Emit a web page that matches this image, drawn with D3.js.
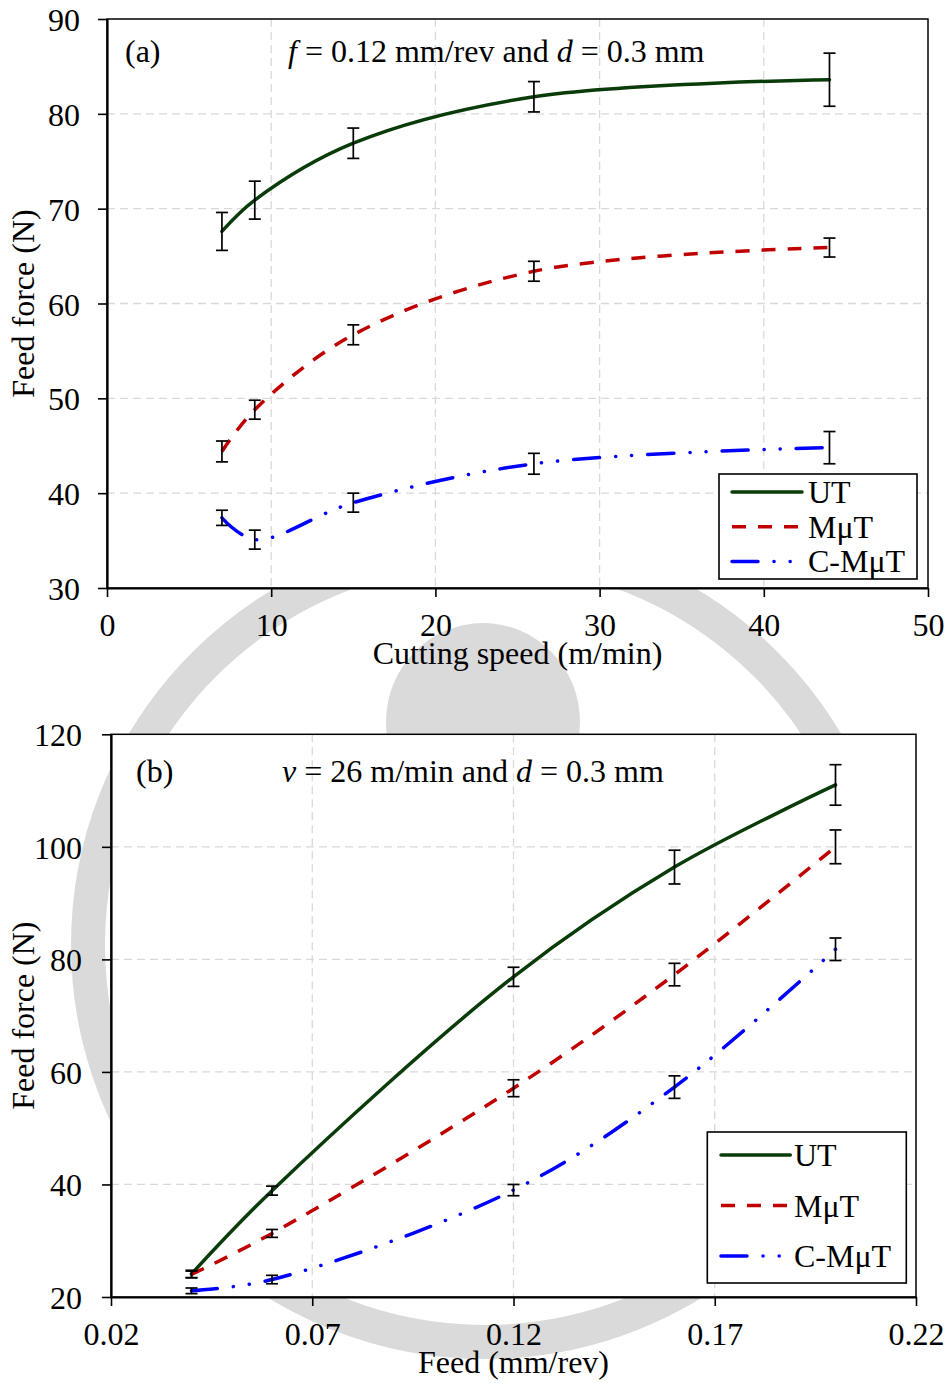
<!DOCTYPE html>
<html><head><meta charset="utf-8">
<script src="https://cdn.jsdelivr.net/npm/d3@7"></script>
<style>
html,body{margin:0;padding:0;background:#fff;}
svg{display:block;}
text{font-family:"Liberation Serif","Times New Roman",serif;}
</style></head><body>
<svg id="chart" width="947" height="1383"></svg>
<script>
// ---------- Panel (a): feed force vs cutting speed ----------
const speedA = [7, 9, 15, 26, 44];
const utA = [67.6, 70.9, 76.9, 81.8, 83.6];
const utErrA = [2.0, 2.0, 1.6, 1.6, 2.8];
const mutA = [44.4, 48.8, 56.7, 63.4, 65.9];
const mutErrA = [1.1, 1.0, 1.05, 1.05, 1.0];
const cmutA = [37.4, 35.1, 39.0, 43.1, 44.8];
const cmutErrA = [0.8, 1.0, 1.0, 1.1, 1.7];
const xTicksA = [0, 10, 20, 30, 40, 50];
const yTicksA = [30, 40, 50, 60, 70, 80, 90];

// ---------- Panel (b): feed force vs feed ----------
const feedB = [0.04, 0.06, 0.12, 0.16, 0.2];
const utB = [24.1, 38.9, 76.9, 96.4, 111.0];
const utErrB = [0.65, 0.8, 1.7, 3.0, 3.6];
const mutB = [24.0, 31.3, 57.1, 77.3, 100.0];
const mutErrB = [0.6, 0.7, 1.5, 2.0, 3.0];
const cmutB = [21.1, 23.1, 39.0, 57.3, 81.8];
const cmutErrB = [0.5, 0.75, 1.0, 2.0, 2.0];
const xTicksB = [0.02, 0.07, 0.12, 0.17, 0.22];
const yTicksB = [20, 40, 60, 80, 100, 120];

const seriesNames = ["UT", "M\u03bcT", "C-M\u03bcT"];
const seriesColors = ["#0a3c0a", "#c00000", "#0000ff"];
const seriesDash = [null, "14,12", "26,16,0.1,16,0.1,16"];
const seriesCap = ["round", "butt", "round"];

const FONT = '"Liberation Serif","Times New Roman",serif';
const svg = d3.select("#chart");

// faint background watermark
const wm = svg.append("g");
wm.append("circle").attr("cx", 485).attr("cy", 945).attr("r", 397)
  .attr("fill", "none").attr("stroke", "#dadada").attr("stroke-width", 34);
wm.append("ellipse").attr("cx", 483).attr("cy", 722).attr("rx", 97).attr("ry", 99)
  .attr("fill", "#dadada");

function drawPanel(o) {
  const w = o.width, h = o.height;
  const g = svg.append("g").attr("transform", `translate(${o.left},${o.top})`);
  const x = d3.scaleLinear().domain(o.xDomain).range([0, w]);
  const y = d3.scaleLinear().domain(o.yDomain).range([h, 0]);

  g.append("rect").attr("width", w).attr("height", h).attr("fill", "#fff");

  // grid
  g.append("g").selectAll("line").data(o.xTicks.slice(1, -1)).join("line")
    .attr("x1", d => x(d)).attr("x2", d => x(d)).attr("y1", 0).attr("y2", h)
    .attr("stroke", "#d9d9d9").attr("stroke-width", 1.3).attr("stroke-dasharray", "8,5");
  g.append("g").selectAll("line").data(o.yTicks.slice(1, -1)).join("line")
    .attr("y1", d => y(d)).attr("y2", d => y(d)).attr("x1", 0).attr("x2", w)
    .attr("stroke", "#d9d9d9").attr("stroke-width", 1.3).attr("stroke-dasharray", "8,5");

  // border
  g.append("rect").attr("width", w).attr("height", h).attr("fill", "none")
    .attr("stroke", "#000").attr("stroke-width", 1.5);

  // axes
  const xa = g.append("g").attr("transform", `translate(0,${h})`)
    .call(d3.axisBottom(x).tickValues(o.xTicks).tickFormat(o.xFormat).tickSize(9).tickSizeOuter(0));
  xa.attr("font-size", 32).attr("font-family", FONT);
  xa.select(".domain").attr("stroke-width", 2.2);
  xa.selectAll(".tick line").attr("stroke-width", 1.6);
  xa.selectAll(".tick text").attr("y", 48).attr("dy", 0).attr("fill", "#000");

  const ya = g.append("g")
    .call(d3.axisLeft(y).tickValues(o.yTicks).tickSize(9).tickSizeOuter(0));
  ya.attr("font-size", 32).attr("font-family", FONT);
  ya.select(".domain").attr("stroke-width", 2.2);
  ya.selectAll(".tick line").attr("stroke-width", 1.6);
  ya.selectAll(".tick text").attr("x", -o.yLabelGap).attr("dy", "0.36em").attr("fill", "#000");

  // series
  const line = d3.line().x(d => x(d[0])).y(d => y(d[1])).curve(d3.curveCatmullRom.alpha(0.5));
  o.series.forEach((s, i) => {
    const pts = o.xs.map((xv, k) => [xv, s[k]]);
    g.append("path").datum(pts).attr("d", line).attr("fill", "none")
      .attr("stroke", seriesColors[i]).attr("stroke-width", 3.5)
      .attr("stroke-dasharray", seriesDash[i]).attr("stroke-linecap", seriesCap[i]);
  });
  // error bars
  o.series.forEach((s, i) => {
    const eb = g.append("g").attr("stroke", "#000").attr("stroke-width", 1.7);
    o.xs.forEach((xv, k) => {
      const e = o.errors[i][k];
      const cx = x(xv), y1 = y(s[k] + e), y2 = y(s[k] - e);
      eb.append("line").attr("x1", cx).attr("x2", cx).attr("y1", y1).attr("y2", y2);
      eb.append("line").attr("x1", cx - 6).attr("x2", cx + 6).attr("y1", y1).attr("y2", y1);
      eb.append("line").attr("x1", cx - 6).attr("x2", cx + 6).attr("y1", y2).attr("y2", y2);
    });
  });

  // annotations
  g.append("text").attr("x", o.tagX).attr("y", o.annY).attr("font-size", 32).text(o.tag);
  const ann = g.append("text").attr("x", o.annX).attr("y", o.annY).attr("font-size", 32)
    .style("white-space", "pre");
  o.ann.forEach(p => ann.append("tspan").attr("font-style", p[1] ? "italic" : "normal").text(p[0]));

  // axis titles
  g.append("text").attr("x", w / 2).attr("y", h + 76).attr("text-anchor", "middle")
    .attr("font-size", 32).text(o.xTitle);
  g.append("text").attr("transform", `translate(${33.5 - o.left},${h / 2}) rotate(-90)`)
    .attr("text-anchor", "middle").attr("font-size", 32).text("Feed force (N)");

  // legend
  const L = o.legend;
  const lg = g.append("g").attr("transform", `translate(${L.x},${L.y})`);
  lg.append("rect").attr("width", L.w).attr("height", L.h).attr("fill", "#fff")
    .attr("stroke", "#000").attr("stroke-width", 1.6);
  seriesNames.forEach((name, i) => {
    const yy = L.first + i * L.step;
    lg.append("line").attr("x1", L.lx1).attr("x2", L.lx2).attr("y1", yy).attr("y2", yy)
      .attr("stroke", seriesColors[i]).attr("stroke-width", 3.5)
      .attr("stroke-dasharray", seriesDash[i]).attr("stroke-linecap", seriesCap[i]);
    lg.append("text").attr("x", L.tx).attr("y", yy + 11).attr("font-size", 32).text(name);
  });
}

drawPanel({
  left: 107, top: 19, width: 821, height: 569,
  xDomain: [0, 50], yDomain: [30, 90],
  xTicks: xTicksA, yTicks: yTicksA, xFormat: d3.format("d"), yLabelGap: 27,
  xs: speedA, series: [utA, mutA, cmutA], errors: [utErrA, mutErrA, cmutErrA],
  tag: "(a)", tagX: 18, annX: 181, annY: 43,
  ann: [["f", true], [" = 0.12 mm/rev and ", false], ["d", true], [" = 0.3 mm", false]],
  xTitle: "Cutting speed (m/min)",
  legend: { x: 612, y: 455, w: 198, h: 105, first: 18, step: 34.7, lx1: 13, lx2: 83, tx: 89 }
});

drawPanel({
  left: 111, top: 734.3, width: 805, height: 562.7,
  xDomain: [0.02, 0.22], yDomain: [20, 120],
  xTicks: xTicksB, yTicks: yTicksB, xFormat: d3.format(".2f"), yLabelGap: 29,
  xs: feedB, series: [utB, mutB, cmutB], errors: [utErrB, mutErrB, cmutErrB],
  tag: "(b)", tagX: 25, annX: 171, annY: 47.7,
  ann: [["v", true], [" = 26 m/min and ", false], ["d", true], [" = 0.3 mm", false]],
  xTitle: "Feed (mm/rev)",
  legend: { x: 596.3, y: 397.7, w: 199, h: 151, first: 23, step: 50.5, lx1: 13.7, lx2: 83, tx: 86.7 }
});
</script>
</body></html>
